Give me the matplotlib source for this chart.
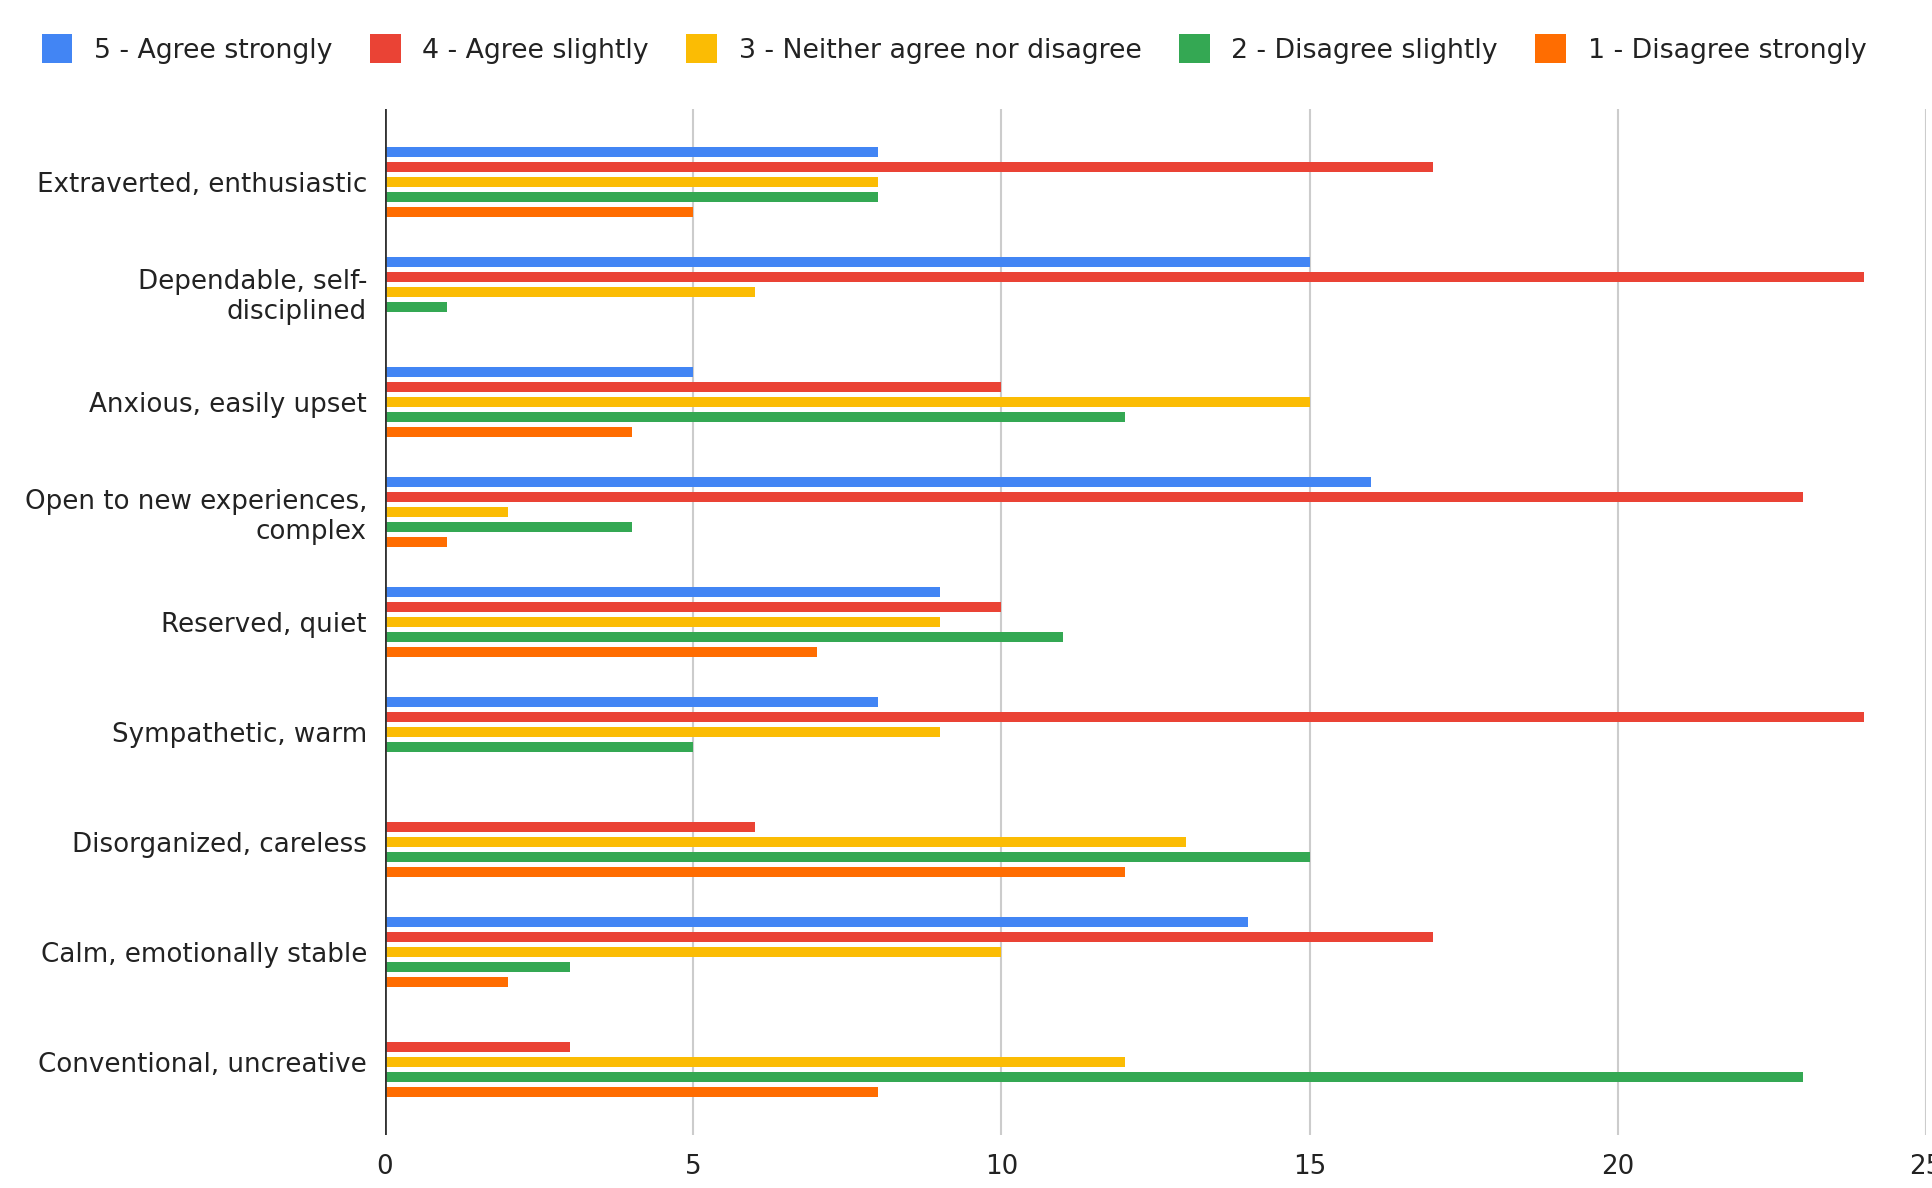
import numpy as np
import matplotlib.pyplot as plt

plt.rcParams['font.family'] = ['DejaVu Sans']

# 데이터
traits = [
    "Extraverted, enthusiastic",
    "Dependable, self-\ndisciplined",
    "Anxious, easily upset",
    "Open to new experiences,\ncomplex",
    "Reserved, quiet",
    "Sympathetic, warm",
    "Disorganized, careless",
    "Calm, emotionally stable",
    "Conventional, uncreative",
]
series_names = [
    "5 - Agree strongly",
    "4 - Agree slightly",
    "3 - Neither agree nor disagree",
    "2 - Disagree slightly",
    "1 - Disagree strongly",
]
agree_strongly = [8, 15, 5, 16, 9, 8, 0, 14, 0]
agree_slightly = [17, 24, 10, 23, 10, 24, 6, 17, 3]
neither = [8, 6, 15, 2, 9, 9, 13, 10, 12]
disagree_slightly = [8, 1, 12, 4, 11, 5, 15, 3, 23]
disagree_strongly = [5, 0, 4, 1, 7, 0, 12, 2, 8]
x_ticks = [0, 5, 10, 15, 20, 25]

colors = ["#4285F4", "#EA4335", "#FBBC04", "#34A853", "#FF6D01"]
all_series = [agree_strongly, agree_slightly, neither, disagree_slightly, disagree_strongly]

fig = plt.figure(figsize=(19.33, 11.88), dpi=100)
ax = fig.add_axes([0.1992, 0.0446, 0.9964 - 0.1992, 0.9082 - 0.0446])

y = np.arange(len(traits))
step = 0.1364
bar_h = 0.086

for i, (name, vals, c) in enumerate(zip(series_names, all_series, colors)):
    ax.barh(y + (i - 2) * step, vals, height=bar_h, color=c, label=name, zorder=3)

ax.set_xlim(0, 25)
ax.set_ylim(8.664, -0.664)
ax.set_xticks(x_ticks)
ax.set_xticklabels([str(t) for t in x_ticks])
ax.set_yticks(y)
ax.set_yticklabels(traits, linespacing=1.2)

ax.grid(axis='x', color='#cccccc', linewidth=1.5, zorder=0)
ax.axvline(0, color='#333333', linewidth=2, zorder=4)
for s in ax.spines.values():
    s.set_visible(False)

ax.tick_params(axis='y', length=0, pad=13, labelsize=18.8, labelcolor='#222222')
ax.tick_params(axis='x', length=0, pad=14, labelsize=18.8, labelcolor='#222222')

fig.legend(loc='center', bbox_to_anchor=(0.4935, 0.9588), ncol=5, frameon=False,
           fontsize=19.3, labelcolor='#222222', handlelength=1.15, handleheight=1.3,
           handletextpad=0.8, columnspacing=1.4)

fig.savefig("out.png", dpi=100)
